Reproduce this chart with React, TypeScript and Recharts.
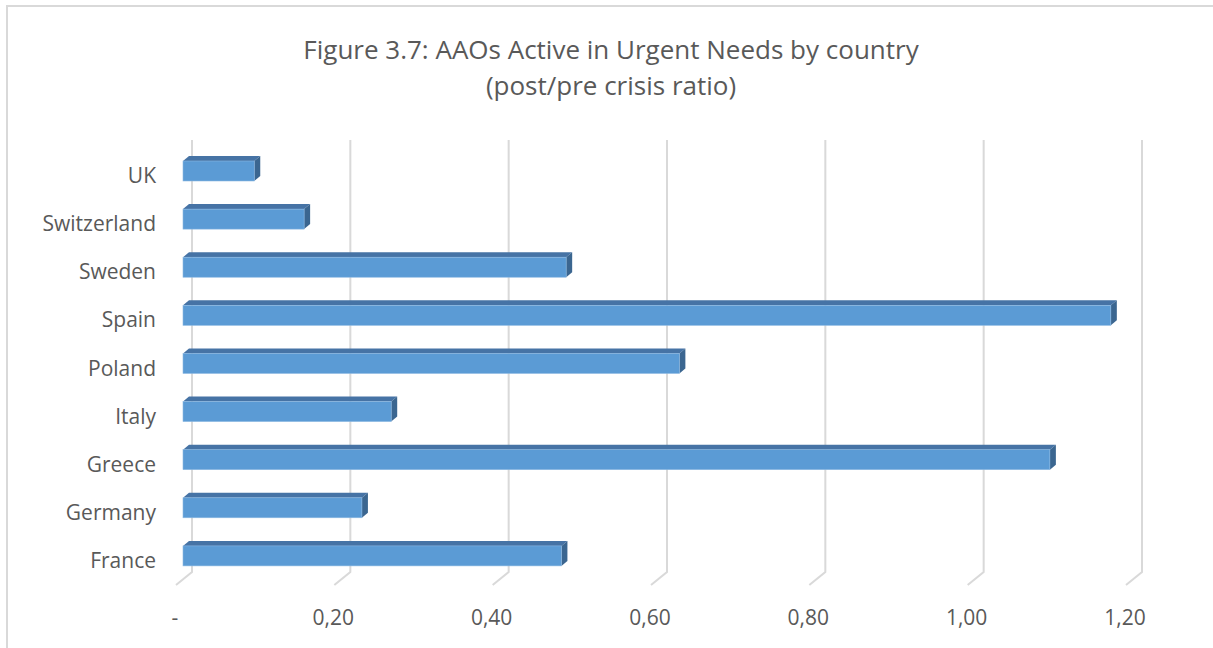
import { BarChart, Bar, XAxis, YAxis, CartesianGrid } from "recharts";

const countries = ["France", "Germany", "Greece", "Italy", "Poland", "Spain", "Sweden", "Switzerland", "UK"];
const ratios = [0.478, 0.226, 1.095, 0.263, 0.627, 1.172, 0.484, 0.153, 0.09];
const xTicks = [0, 0.2, 0.4, 0.6, 0.8, 1.0, 1.2];
const xTickLabels = ["-", "0,20", "0,40", "0,60", "0,80", "1,00", "1,20"];

const data = countries.map((c, i) => ({ name: c, value: ratios[i] }));

const FONT = "'Open Sans', sans-serif";
const TEXT = "#595959";
const GRID = "#D9D9D9";

const Bar3D = (props: any) => {
  const { x, y, width, height } = props;
  const dx = 6;
  const dy = 5;
  return (
    <g>
      <polygon
        points={`${x},${y} ${x + dx},${y - dy} ${x + width + dx},${y - dy} ${x + width},${y}`}
        fill="#4673A5"
      />
      <polygon
        points={`${x + width},${y} ${x + width + dx},${y - dy} ${x + width + dx},${y + height - dy} ${x + width},${y + height}`}
        fill="#3B6690"
      />
      <rect x={x} y={y} width={width} height={height} fill="#5B9BD5" stroke="#8CB8E2" strokeWidth={0.6} />
    </g>
  );
};

const GridLine = (props: any) => {
  const xf = props.x1;
  return (
    <path
      key={props.key}
      d={`M${xf + 9},140 L${xf + 9},572 L${xf - 7},585`}
      stroke={GRID}
      strokeWidth={2}
      fill="none"
    />
  );
};

const XTick = (props: any) => {
  const { x, payload } = props;
  const idx = xTicks.indexOf(payload.value);
  return (
    <text x={x - 8} y={625} textAnchor="middle" fill={TEXT} fontFamily={FONT} fontSize={21}>
      {idx >= 0 ? xTickLabels[idx] : ""}
    </text>
  );
};

const YTick = (props: any) => {
  const { y, payload } = props;
  return (
    <text x={156} y={y + 12} textAnchor="end" fill={TEXT} fontFamily={FONT} fontSize={21}>
      {payload.value}
    </text>
  );
};

export default function App() {
  return (
    <div style={{ position: "absolute", left: 0, top: 0, width: 1213, height: 648, background: "#fff" }}>
      <div
        style={{
          position: "absolute",
          left: 6,
          top: 5,
          width: 1220,
          height: 660,
          borderTop: `2px solid ${GRID}`,
          borderLeft: `2px solid ${GRID}`,
        }}
      />
      <svg style={{ position: "absolute", left: 0, top: 0 }} width={1213} height={110}>
        <text x={611} y={59} textAnchor="middle" fill={TEXT} fontFamily={FONT} fontSize={26}>
          Figure 3.7: AAOs Active in Urgent Needs by country
        </text>
        <text x={611} y={95} textAnchor="middle" fill={TEXT} fontFamily={FONT} fontSize={26}>
          (post/pre crisis ratio)
        </text>
      </svg>
      <div style={{ position: "absolute", left: 0, top: 0 }}>
        <BarChart
          width={1213}
          height={648}
          data={data}
          layout="vertical"
          margin={{ top: 147, right: 80, bottom: 0, left: 0 }}
          barSize={20}
        >
          <CartesianGrid horizontal={false} vertical={GridLine} />
          <XAxis
            type="number"
            domain={[0, 1.2]}
            ticks={xTicks}
            axisLine={false}
            tickLine={false}
            height={68}
            tick={XTick}
            interval={0}
          />
          <YAxis
            type="category"
            dataKey="name"
            reversed
            width={183}
            axisLine={false}
            tickLine={false}
            tick={YTick}
            interval={0}
          />
          <Bar dataKey="value" shape={Bar3D} isAnimationActive={false} />
        </BarChart>
      </div>
    </div>
  );
}
